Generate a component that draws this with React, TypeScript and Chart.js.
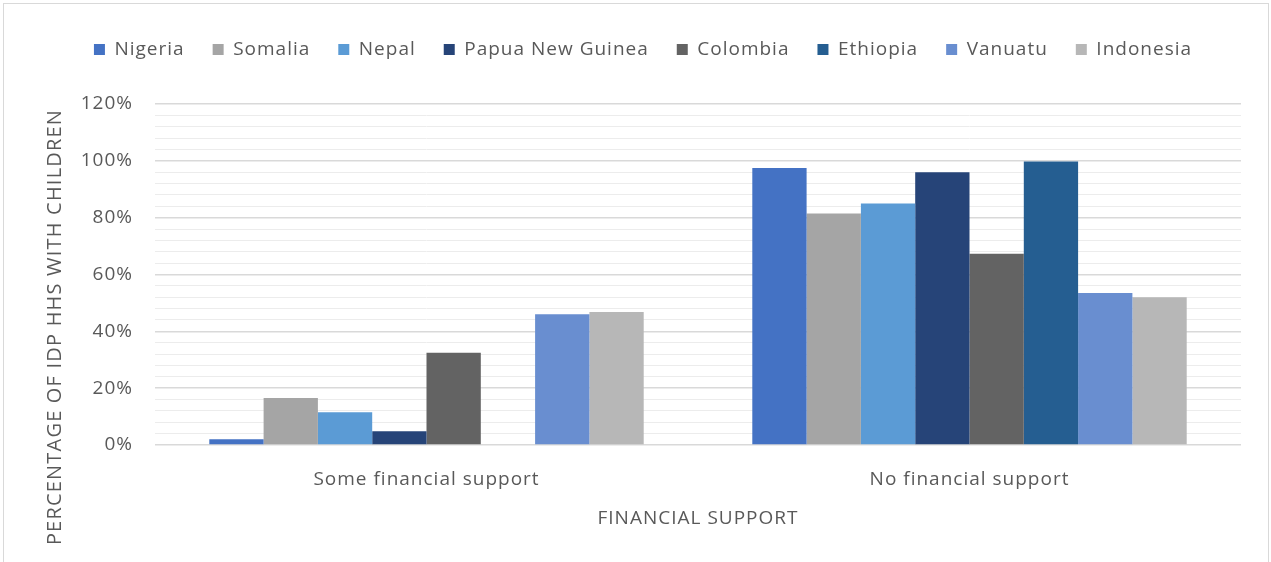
import React, { useEffect, useRef } from "react";
import { Chart, registerables } from "chart.js";

Chart.register(...registerables);

const categories = ["Some financial support", "No financial support"];
const countries = ["Nigeria", "Somalia", "Nepal", "Papua New Guinea", "Colombia", "Ethiopia", "Vanuatu", "Indonesia"];
const colors = ["#4472C4", "#A5A5A5", "#5B9BD5", "#264478", "#636363", "#255E91", "#698ED0", "#B7B7B7"];
const someSupport: (number | null)[] = [2, 16.5, 11.5, 4.8, 32.5, null, 46, 46.8];
const noSupport: (number | null)[] = [97.5, 81.5, 85, 96, 67.3, 99.8, 53.5, 52];
const yTitle = "PERCENTAGE OF IDP HHS WITH CHILDREN";
const xTitle = "FINANCIAL SUPPORT";

const FONT = "'Open Sans', sans-serif";
const TEXT = "#595959";

const spacingPlugin = {
  id: "spacingPlugin",
  beforeInit(chart: any) {
    chart.ctx.letterSpacing = "1px";
  },
  beforeUpdate(chart: any) {
    chart.ctx.letterSpacing = "1px";
  },
  beforeDraw(chart: any) {
    chart.ctx.letterSpacing = "1px";
  },
};

const yTitlePlugin = {
  id: "yTitlePlugin",
  afterDraw(chart: any) {
    const ctx = chart.ctx;
    ctx.save();
    ctx.translate(55, 327);
    ctx.rotate(-Math.PI / 2);
    ctx.font = `20px ${FONT}`;
    ctx.letterSpacing = "1.2px";
    ctx.fillStyle = TEXT;
    ctx.textAlign = "center";
    ctx.textBaseline = "middle";
    ctx.fillText(yTitle, 0, 0);
    ctx.restore();
  },
};

export default function App() {
  const ref = useRef<HTMLCanvasElement>(null);
  useEffect(() => {
    if (!ref.current) return;
    const chart = new Chart(ref.current, {
      type: "bar",
      data: {
        labels: categories,
        datasets: countries.map((c, i) => ({
          label: c,
          data: [someSupport[i], noSupport[i]],
          backgroundColor: colors[i],
          borderWidth: 0,
          categoryPercentage: 0.8,
          barPercentage: 1.0,
        })),
      },
      options: {
        animation: false,
        responsive: false,
        maintainAspectRatio: false,
        layout: { padding: { left: 45, right: 30, top: 12, bottom: 28 } },
        plugins: {
          legend: {
            position: "top",
            labels: {
              font: { family: FONT, size: 19 },
              color: TEXT,
              boxWidth: 11,
              boxHeight: 11,
              padding: 28,
            },
          },
          tooltip: { enabled: false },
        },
        scales: {
          x: {
            grid: { display: false, drawTicks: false },
            border: { display: false },
            ticks: { font: { family: FONT, size: 19 }, color: TEXT, padding: 23 },
            title: { display: true, text: xTitle, font: { family: FONT, size: 19 }, color: TEXT },
            afterFit: (s: any) => {
              s.height = 89;
            },
          },
          xTop: {
            type: "category",
            position: "top",
            grid: { display: false, drawTicks: false },
            border: { display: false },
            ticks: { display: false },
            afterFit: (s: any) => {
              s.height = 35;
            },
          },
          y: {
            min: 0,
            max: 120,
            grid: {
              drawTicks: false,
              color: (c: any) => (c.tick && c.tick.value % 20 === 0 ? "#d9d9d9" : "#ececec"),
              lineWidth: (c: any) => (c.tick && c.tick.value % 20 === 0 ? 1.5 : 1),
            },
            border: { display: false },
            ticks: {
              stepSize: 4,
              autoSkip: false,
              padding: 22,
              font: { family: FONT, size: 19 },
              color: TEXT,
              callback: (v: any) => (Number(v) % 20 === 0 ? `${v}%` : ""),
            },
            afterFit: (s: any) => {
              s.width = 110;
            },
          },
        },
      } as any,
      plugins: [spacingPlugin, yTitlePlugin],
    });
    return () => chart.destroy();
  }, []);
  return (
    <div style={{ position: "fixed", left: 0, top: 0, width: 1271, height: 562, background: "#fff" }}>
      <div
        style={{
          position: "absolute",
          left: 3,
          top: 3,
          width: 1266,
          height: 570,
          border: "1px solid #d9d9d9",
          boxSizing: "border-box",
        }}
      />
      <canvas ref={ref} width={1271} height={562} style={{ position: "absolute", left: 0, top: 0 }} />
    </div>
  );
}
